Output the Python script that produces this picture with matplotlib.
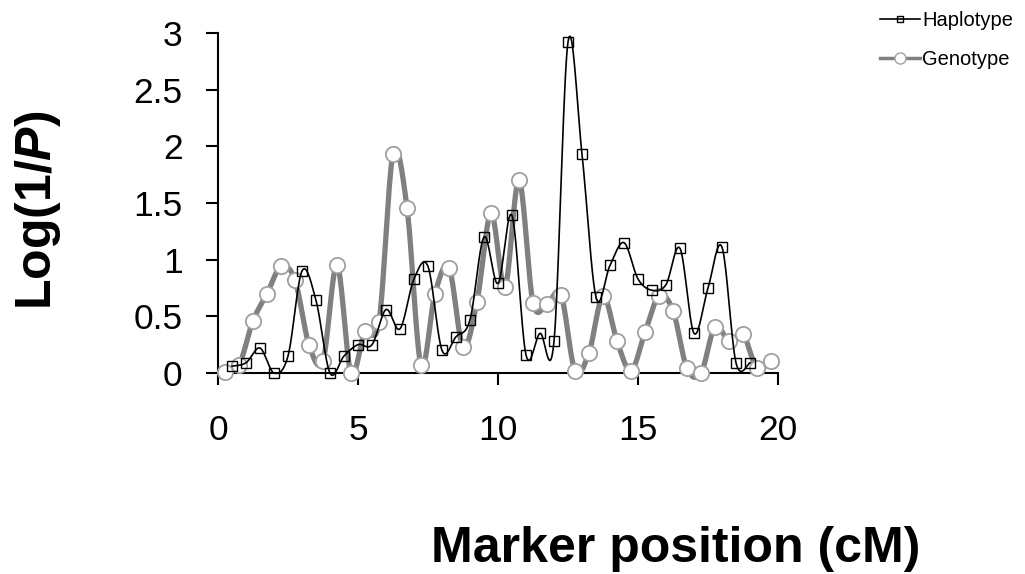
import numpy as np
import matplotlib
matplotlib.use('Agg')
import matplotlib.pyplot as plt
from matplotlib.lines import Line2D

plt.rcParams['font.family'] = ['Liberation Sans', 'DejaVu Sans']
plt.rcParams['mathtext.fontset'] = 'custom'
plt.rcParams['mathtext.rm'] = 'Liberation Sans:bold'
plt.rcParams['mathtext.it'] = 'Liberation Sans:bold:italic'

# Haplotype (squares, black)
hap_x = [0.5, 1.0, 1.5, 2.0, 2.5, 3.0, 3.5, 4.0, 4.5, 5.0,
         5.5, 6.0, 6.5, 7.0, 7.5, 8.0, 8.5, 9.0, 9.5, 10.0,
         10.5, 11.0, 11.5, 12.0, 12.5, 13.0, 13.5, 14.0, 14.5, 15.0,
         15.5, 16.0, 16.5, 17.0, 17.5, 18.0, 18.5, 19.0]
hap_y = [0.06, 0.09, 0.22, 0.00, 0.15, 0.90, 0.64, 0.00, 0.15, 0.25,
         0.25, 0.56, 0.39, 0.83, 0.94, 0.20, 0.32, 0.47, 1.20, 0.79,
         1.39, 0.16, 0.35, 0.28, 2.92, 1.93, 0.67, 0.95, 1.15, 0.83,
         0.73, 0.78, 1.10, 0.35, 0.75, 1.11, 0.09, 0.09]

# Genotype (circles, grey)
gen_x = [0.25, 0.75, 1.25, 1.75, 2.25, 2.75, 3.25, 3.75, 4.25, 4.75,
         5.25, 5.75, 6.25, 6.75, 7.25, 7.75, 8.25, 8.75, 9.25, 9.75,
         10.25, 10.75, 11.25, 11.75, 12.25, 12.75, 13.25, 13.75, 14.25, 14.75,
         15.25, 15.75, 16.25, 16.75, 17.25, 17.75, 18.25, 18.75, 19.25, 19.75]
gen_y = [0.01, 0.07, 0.46, 0.70, 0.94, 0.82, 0.25, 0.11, 0.95, 0.00,
         0.37, 0.45, 1.93, 1.46, 0.07, 0.70, 0.93, 0.23, 0.63, 1.41,
         0.76, 1.70, 0.62, 0.61, 0.69, 0.02, 0.18, 0.68, 0.28, 0.02,
         0.36, 0.68, 0.55, 0.04, 0.00, 0.41, 0.28, 0.34, 0.04, 0.11]

xticks = [0, 5, 10, 15, 20]
yticks = [0, 0.5, 1, 1.5, 2, 2.5, 3]
ytick_labels = ['0', '0.5', '1', '1.5', '2', '2.5', '3']


def smooth(x, y, n=20):
    # excel-like smoothed line (catmull-rom bezier)
    x = np.asarray(x, float)
    y = np.asarray(y, float)
    p = np.column_stack([x, y])
    pts = np.vstack([p[0], p, p[-1]])
    out = []
    t = np.linspace(0, 1, n)[:, None]
    for i in range(1, len(pts) - 2):
        p0, p1, p2, p3 = pts[i - 1], pts[i], pts[i + 1], pts[i + 2]
        c1 = p1 + (p2 - p0) / 6
        c2 = p2 - (p3 - p1) / 6
        seg = ((1 - t) ** 3) * p1 + 3 * ((1 - t) ** 2) * t * c1 + 3 * (1 - t) * t ** 2 * c2 + t ** 3 * p2
        out.append(seg)
    c = np.vstack(out)
    return c[:, 0], c[:, 1]


fig = plt.figure(figsize=(10.25, 5.74), dpi=100)
ax = fig.add_axes([218 / 1025, 1 - 373 / 574, 560 / 1025, 340 / 574])

gx, gy = smooth(gen_x, gen_y)
ax.plot(gx, gy, color='#808080', lw=3.8, clip_on=False, zorder=2)
ax.plot(gen_x, gen_y, ls='none', marker='o', ms=11, mfc='white', mec='#a0a0a0',
        mew=1.3, clip_on=False, zorder=3)

hx, hy = smooth(hap_x, hap_y)
ax.plot(hx, hy, color='black', lw=1.2, clip_on=False, zorder=4)
ax.plot(hap_x, hap_y, ls='none', marker='s', ms=6.5, mfc='none', mec='black',
        mew=1.0, clip_on=False, zorder=5)

ax.set_xlim(0, 20)
ax.set_ylim(0, 3)
ax.set_xticks(xticks)
ax.set_yticks(yticks)
ax.set_yticklabels(ytick_labels)
for s in ['top', 'right']:
    ax.spines[s].set_visible(False)
for s in ['left', 'bottom']:
    ax.spines[s].set_linewidth(1.5)
ax.tick_params(axis='both', direction='out', length=8.5, width=1.5, labelsize=25.5)
ax.tick_params(axis='x', pad=21)
ax.tick_params(axis='y', pad=17)

fig.text(0.037, 1 - 210 / 574, r'$\mathrm{Log(1/}\mathit{P}\mathrm{)}$', rotation=90,
         ha='center', va='center', fontsize=36)
fig.text(676 / 1025, 1 - 562 / 574, 'Marker position (cM)', ha='center', va='baseline',
         fontsize=36, fontweight='bold')

handles = [Line2D([], [], color='black', lw=1.2, marker='s', ms=5, mfc='none', mec='black'),
           Line2D([], [], color='#808080', lw=2.5, marker='o', ms=8, mfc='white', mec='#a0a0a0')]
fig.legend(handles, ['Haplotype', 'Genotype'], loc='upper left',
           bbox_to_anchor=(872 / 1025, 1 - 3 / 574), frameon=False, fontsize=14.5,
           handlelength=2.0, handletextpad=0.1, labelspacing=1.0, borderaxespad=0)

fig.savefig('out.png', dpi=100)
